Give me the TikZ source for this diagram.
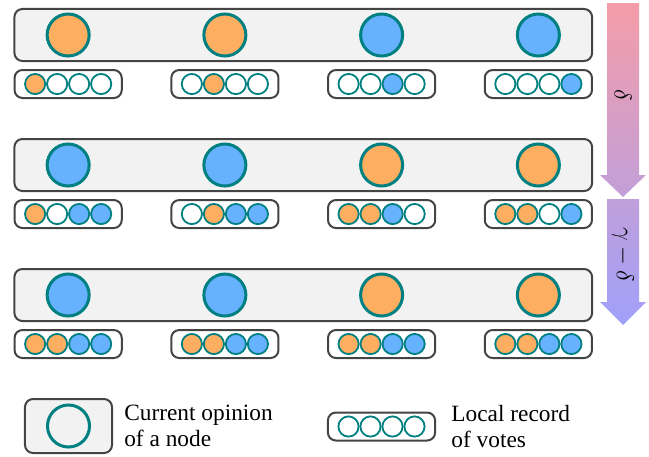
\documentclass[tikz,border=0pt]{standalone}
\usepackage{fontspec}
\setmainfont{Liberation Serif}
\usetikzlibrary{matrix,positioning}

\definecolor{opA}{RGB}{253,174,97}
\definecolor{opB}{RGB}{102,178,255}
\definecolor{rim}{RGB}{0,128,128}
\definecolor{boxgray}{RGB}{242,242,242}
\definecolor{boxline}{RGB}{68,68,68}
\definecolor{arrtop}{RGB}{245,157,168}
\definecolor{arrbot}{RGB}{160,160,250}

\begin{document}
\begin{tikzpicture}[x=0.025cm,y=-0.025cm,
    every node/.append style={font=\fontsize{16.6}{18}\selectfont},
    big/.style={circle,draw=rim,line width=0.75mm,minimum size=1.05cm,inner sep=0pt,outer sep=0pt},
    co/.style={big,fill=opA},
    cb/.style={big,fill=opB},
    vote/.style={circle,draw=rim,line width=0.45mm,minimum size=0.505cm,inner sep=0pt,outer sep=0pt},
    vo/.style={vote,fill=opA},
    vb/.style={vote,fill=opB},
    vw/.style={vote,fill=white},
    row/.style={matrix of nodes,draw=boxline,line width=0.5mm,fill=boxgray,rounded corners=0.2cm,%
                column sep=2.7925cm,inner xsep=0.78cm,inner ysep=0.0875cm,outer sep=0pt},
    rec/.style={matrix of nodes,draw=boxline,line width=0.5mm,fill=white,rounded corners=0.2cm,%
                column sep=0pt,inner xsep=0.24cm,inner ysep=0.075cm,outer sep=0pt}]
\useasboundingbox (0,0) rectangle (649,456);

% current opinions
\matrix (A) [row] at (303.25,35)  { |[co]| & |[co]| & |[cb]| & |[cb]| \\ };
\matrix (B) [row] at (303.25,165) { |[cb]| & |[cb]| & |[co]| & |[co]| \\ };
\matrix (C) [row] at (303.25,295) { |[cb]| & |[cb]| & |[co]| & |[co]| \\ };

% local records of votes
\matrix (a1) [rec, below=0.35cm of A-1-1] { |[vo]| & |[vw]| & |[vw]| & |[vw]| \\ };
\matrix (a2) [rec, below=0.35cm of A-1-2] { |[vw]| & |[vo]| & |[vw]| & |[vw]| \\ };
\matrix (a3) [rec, below=0.35cm of A-1-3] { |[vw]| & |[vw]| & |[vb]| & |[vw]| \\ };
\matrix (a4) [rec, below=0.35cm of A-1-4] { |[vw]| & |[vw]| & |[vw]| & |[vb]| \\ };

\matrix (b1) [rec, below=0.35cm of B-1-1] { |[vo]| & |[vw]| & |[vb]| & |[vb]| \\ };
\matrix (b2) [rec, below=0.35cm of B-1-2] { |[vw]| & |[vo]| & |[vb]| & |[vb]| \\ };
\matrix (b3) [rec, below=0.35cm of B-1-3] { |[vo]| & |[vo]| & |[vb]| & |[vw]| \\ };
\matrix (b4) [rec, below=0.35cm of B-1-4] { |[vo]| & |[vo]| & |[vw]| & |[vb]| \\ };

\matrix (c1) [rec, below=0.35cm of C-1-1] { |[vo]| & |[vo]| & |[vb]| & |[vb]| \\ };
\matrix (c2) [rec, below=0.35cm of C-1-2] { |[vo]| & |[vo]| & |[vb]| & |[vb]| \\ };
\matrix (c3) [rec, below=0.35cm of C-1-3] { |[vo]| & |[vo]| & |[vb]| & |[vb]| \\ };
\matrix (c4) [rec, below=0.35cm of C-1-4] { |[vo]| & |[vo]| & |[vb]| & |[vb]| \\ };

% time arrows
\shade[top color=arrtop, bottom color=arrbot!60!arrtop]
  (607,3) -- (639,3) -- (639,175) -- (646,175) -- (623,197) -- (600,175) -- (607,175) -- cycle;
\shade[top color=arrbot!62!arrtop, bottom color=arrbot]
  (607,199) -- (639,199) -- (639,302) -- (646,302) -- (623,325) -- (600,302) -- (607,302) -- cycle;
\node (d)  [rotate=-90] at (623,95)  {$\delta$};
\node (dg) [rotate=-90] at (623,255) {$\gamma-\delta$};

% legend
\node (key) [draw=boxline,line width=0.5mm,fill=boxgray,rounded corners=0.2cm,%
             minimum width=2.175cm,minimum height=1.35cm,outer sep=0pt] at (68.5,426) {};
\node (keyc) [big] at (key) {};
\node (keyt) [right=0.3cm of key,align=left,inner sep=0pt] {Current opinion\\of a node};

\matrix (keyr) [rec] at (381.5,426.5) { |[vw]| & |[vw]| & |[vw]| & |[vw]| \\ };
\node (keyt2) [right=0.4cm of keyr,align=left,inner sep=0pt] {Local record\\of votes};
\end{tikzpicture}
\end{document}
